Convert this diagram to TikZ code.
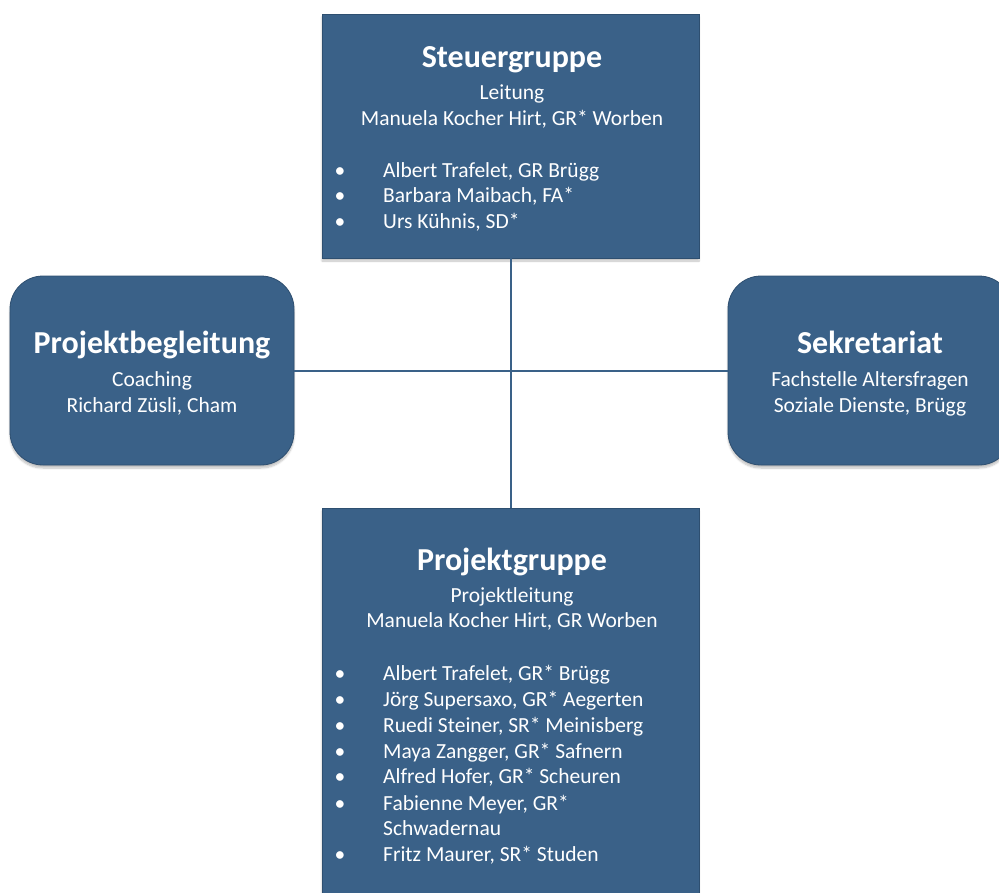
\documentclass[tikz,border=0pt]{standalone}
\usepackage{fontspec}
\setmainfont{Carlito}
\usetikzlibrary{shadows.blur}
\definecolor{boxblue}{HTML}{3A6188}
\definecolor{boxline}{HTML}{2E4F70}

\begin{document}
\begin{tikzpicture}
      [%%%%%%%%%%%%%%%%%%%%%%%%%%%%%%
      x=1pt,y=-1pt,
      box/.style={rectangle,draw=boxline,thick,fill=boxblue,
        blur shadow={shadow xshift=0pt,shadow yshift=-3pt,shadow blur steps=6,shadow opacity=25}},
      roundbox/.style={box,rounded corners=33pt},
      head/.style={anchor=base,text=white,inner sep=0pt,font=\fontsize{32}{36}\selectfont\bfseries},
      txt/.style={anchor=base,text=white,inner sep=0pt,font=\fontsize{21.5}{26}\selectfont},
      item/.style={txt,anchor=base west},
      link/.style={draw=boxblue,line width=2pt},
      ]%%%%%%%%%%%%%%%%%%%%%%%%%%%%%%

      \useasboundingbox (0,0) rectangle (999,892);

      \node[box,minimum width=377pt,minimum height=244pt] (steuer) at (510.5,136){};
      \node[roundbox,minimum width=284pt,minimum height=189pt] (begleit) at (152,370.5){};
      \node[roundbox,minimum width=284pt,minimum height=189pt] (sekret) at (870,370.5){};
      \node[box,minimum width=377pt,minimum height=397pt] (projekt) at (510.5,706.5){};

      \draw[link] (steuer.south) -- (projekt.north);
      \draw[link] (begleit.east) -- (sekret.west);

      % Steuergruppe
      \node[head] (sg-title) at (512,67){Steuergruppe};
      \node[txt] (sg-role) at (512,99){Leitung};
      \node[txt] (sg-lead) at (512,125){Manuela Kocher Hirt, GR* Worben};
      \foreach \who/\y [count=\i] in {{Albert Trafelet, GR Brügg}/177,
          {Barbara Maibach, FA*}/202, {Urs Kühnis, SD*}/228}{
        \node[txt] (sg-dot-\i) at (340,\y){•};
        \node[item] (sg-item-\i) at (383,\y){\who};
      }

      % Projektbegleitung
      \node[head] (pb-title) at (152,353){Projektbegleitung};
      \node[txt] (pb-role) at (152,386){Coaching};
      \node[txt] (pb-name) at (152,412){Richard Züsli, Cham};

      % Sekretariat
      \node[head] (sk-title) at (870,353){Sekretariat};
      \node[txt] (sk-role) at (870,386){Fachstelle Altersfragen};
      \node[txt] (sk-name) at (870,412){Soziale Dienste, Brügg};

      % Projektgruppe
      \node[head] (pg-title) at (512,570){Projektgruppe};
      \node[txt] (pg-role) at (512,602){Projektleitung};
      \node[txt] (pg-lead) at (512,627){Manuela Kocher Hirt, GR Worben};
      \foreach \who/\y [count=\i] in {{Albert Trafelet, GR* Brügg}/680,
          {Jörg Supersaxo, GR* Aegerten}/706, {Ruedi Steiner, SR* Meinisberg}/732,
          {Maya Zangger, GR* Safnern}/758, {Alfred Hofer, GR* Scheuren}/783,
          {Fabienne Meyer, GR*}/810, {Fritz Maurer, SR* Studen}/861}{
        \node[txt] (pg-dot-\i) at (340,\y){•};
        \node[item] (pg-item-\i) at (383,\y){\who};
      }
      \node[item] (pg-wrap) at (383,835){Schwadernau};
    \end{tikzpicture}
\end{document}
